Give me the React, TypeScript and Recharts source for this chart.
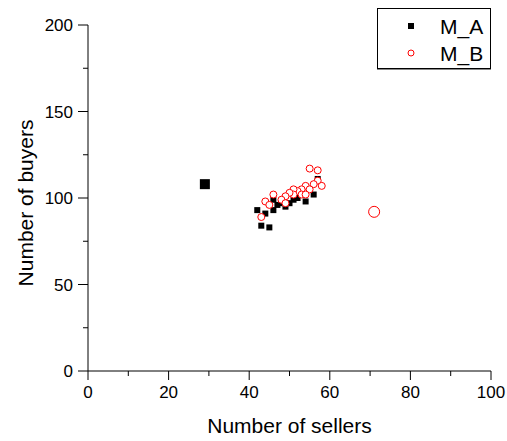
import { Legend, Scatter, ScatterChart, XAxis, YAxis } from "recharts";

// data
const maSellers = [42, 43, 45, 44, 46, 46, 47, 48, 49, 50, 51, 52, 54, 56, 57];
const maBuyers = [93, 84, 83, 91, 93, 99, 96, 97, 95, 97, 99, 100, 98, 102, 111];
const maOutlierSellers = [29];
const maOutlierBuyers = [108];

const mbSellers = [55, 57, 57, 56, 58, 54, 55, 53, 52, 51, 51, 50, 49, 48, 49, 46, 44, 45, 43, 53, 54];
const mbBuyers = [117, 116, 110, 108, 107, 107, 105, 105, 104, 105, 102, 103, 101, 99, 97, 102, 98, 96, 89, 102, 102];
const mbOutlierSellers = [71];
const mbOutlierBuyers = [92];

const xTicks = [0, 10, 20, 30, 40, 50, 60, 70, 80, 90, 100];
const yTicks = [0, 25, 50, 75, 100, 125, 150, 175, 200];

const FONT = "'Liberation Sans', Arial, sans-serif";

const toPoints = (xs: number[], ys: number[]) =>
  xs.map((x, i) => ({ sellers: x, buyers: ys[i] }));

const maData = toPoints(maSellers, maBuyers);
const maOutlier = toPoints(maOutlierSellers, maOutlierBuyers);
const mbData = toPoints(mbSellers, mbBuyers);
const mbOutlier = toPoints(mbOutlierSellers, mbOutlierBuyers);

const square = (size: number) => (props: any) => (
  <rect
    x={props.cx - size / 2}
    y={props.cy - size / 2}
    width={size}
    height={size}
    fill="#000"
  />
);

const ring = (r: number) => (props: any) => (
  <circle cx={props.cx} cy={props.cy} r={r} fill="#fff" stroke="#ff0000" strokeWidth={1} />
);

const XTick = (props: any) => {
  const { x, y, payload } = props;
  const major = payload.value % 20 === 0;
  return (
    <g>
      <line x1={x} x2={x} y1={y} y2={y + (major ? 9 : 5)} stroke="#000" />
      {major && (
        <text x={x} y={y + 27} textAnchor="middle" fontSize={17} fontFamily={FONT} fill="#000">
          {payload.value}
        </text>
      )}
    </g>
  );
};

const YTick = (props: any) => {
  const { x, y, payload } = props;
  const major = payload.value % 50 === 0;
  return (
    <g>
      <line x1={x - (major ? 10 : 5)} x2={x} y1={y} y2={y} stroke="#000" />
      {major && (
        <text x={x - 15} y={y + 6} textAnchor="end" fontSize={17} fontFamily={FONT} fill="#000">
          {payload.value}
        </text>
      )}
    </g>
  );
};

const LegendBox = () => (
  <div
    style={{
      width: 112,
      height: 59,
      border: "1px solid #000",
      boxShadow: "0 1px 0 #888",
      background: "#fff",
      fontFamily: FONT,
      fontSize: 21,
      position: "relative",
    }}
  >
    <svg width={112} height={59} style={{ position: "absolute", left: 0, top: 0 }}>
      <rect x={30} y={14} width={6} height={6} fill="#000" />
      <circle cx={33} cy={44} r={3} fill="#fff" stroke="#ff0000" />
      <text x={62} y={25} fontSize={21} fontFamily={FONT} fill="#000">M_A</text>
      <text x={62} y={52} fontSize={21} fontFamily={FONT} fill="#000">M_B</text>
    </svg>
  </div>
);

export default function App() {
  return (
    <div style={{ position: "absolute", left: 0, top: 0, background: "#fff" }}>
      <ScatterChart
        width={507}
        height={441}
        margin={{ top: 25, right: 16, bottom: 0, left: 0 }}
      >
        <XAxis
          type="number"
          dataKey="sellers"
          domain={[0, 100]}
          ticks={xTicks}
          interval={0}
          tickSize={0}
          tickMargin={0}
          tick={<XTick />}
          axisLine={{ stroke: "#000" }}
          height={70}
          label={{
            content: (p: any) => {
              const vb = p.viewBox;
              return (
                <text
                  x={vb.x + vb.width / 2}
                  y={vb.y + 62}
                  textAnchor="middle"
                  fontSize={21}
                  fontFamily={FONT}
                  fill="#000"
                >
                  Number of sellers
                </text>
              );
            },
          }}
        />
        <YAxis
          type="number"
          dataKey="buyers"
          domain={[0, 200]}
          ticks={yTicks}
          interval={0}
          tickSize={0}
          tickMargin={0}
          tick={<YTick />}
          axisLine={{ stroke: "#000" }}
          width={88}
          label={{
            content: (p: any) => {
              const vb = p.viewBox;
              const cy = vb.y + vb.height / 2 + 5;
              return (
                <text
                  x={33}
                  y={cy}
                  transform={`rotate(-90 33 ${cy})`}
                  textAnchor="middle"
                  fontSize={21}
                  fontFamily={FONT}
                  fill="#000"
                >
                  Number of buyers
                </text>
              );
            },
          }}
        />
        <Legend
          layout="horizontal"
          verticalAlign="middle"
          content={<LegendBox />}
          wrapperStyle={{ position: "absolute", left: 377, top: 8, width: 114, height: 61 }}
        />
        <Scatter name="M_A" data={maData} shape={square(6)} isAnimationActive={false} />
        <Scatter name="M_A big" data={maOutlier} shape={square(10)} legendType="none" isAnimationActive={false} />
        <Scatter name="M_B" data={mbData} shape={ring(3.5)} isAnimationActive={false} />
        <Scatter name="M_B big" data={mbOutlier} shape={ring(5.5)} legendType="none" isAnimationActive={false} />
      </ScatterChart>
    </div>
  );
}
